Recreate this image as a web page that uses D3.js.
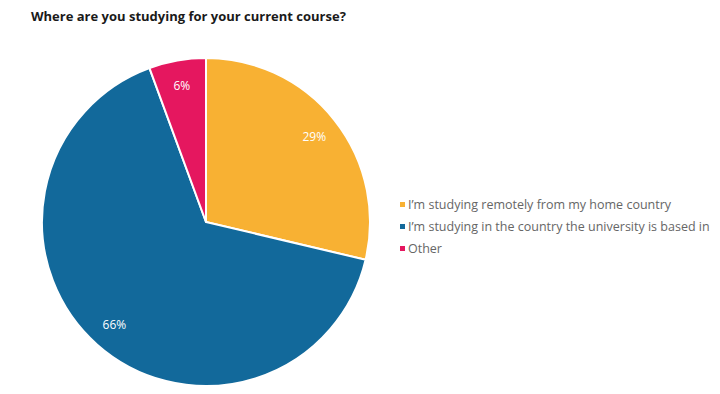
<!DOCTYPE html>
<html><head><meta charset="utf-8">
<script src="https://cdn.jsdelivr.net/npm/d3@7"></script>
<style>body{margin:0;background:#fff;} svg{display:block;font-family:"Open Sans",sans-serif;}</style>
</head><body>
<svg id="c" width="720" height="394"></svg>
<script>
const categories = ["I\u2019m studying remotely from my home country", "I\u2019m studying in the country the university is based in", "Other"];
const values = [28.7, 65.7, 5.6];
const labels = ["29%", "66%", "6%"];
const colors = ["#f8b133", "#12699b", "#e5175f"];

const svg = d3.select("#c");
svg.append("text").attr("x",31).attr("y",21).attr("font-size",13).attr("font-weight",700).attr("fill","#1a1a1a")
  .text("Where are you studying for your current course?");

const cx = 206, cy = 222, r = 164;
const pie = d3.pie().sort(null).value(d=>d)(values);
const arc = d3.arc().innerRadius(0).outerRadius(r);
const labArc = d3.arc().innerRadius(138).outerRadius(138);
const g = svg.append("g").attr("transform",`translate(${cx},${cy})`);
g.selectAll("path").data(pie).join("path").attr("d",arc).attr("fill",(d,i)=>colors[i])
  .attr("stroke","#fff").attr("stroke-width",2).attr("stroke-linejoin","round");
g.selectAll("text").data(pie).join("text")
  .attr("transform",d=>`translate(${labArc.centroid(d)})`)
  .attr("text-anchor","middle").attr("dy","0.35em").attr("font-size",12).attr("fill","#fff")
  .text((d,i)=>labels[i]);

const lg = svg.append("g").attr("transform","translate(400,205)");
const y = d3.scalePoint().domain(categories).range([0,44]);
const row = lg.selectAll("g").data(categories).join("g").attr("transform",d=>`translate(0,${y(d)})`);
row.append("rect").attr("x",0).attr("y",-3).attr("width",5).attr("height",5).attr("fill",(d,i)=>colors[i]);
row.append("text").attr("x",8).attr("dy","0.35em").attr("font-size",12.5).attr("fill","#666").text(d=>d);
</script>
</body></html>
